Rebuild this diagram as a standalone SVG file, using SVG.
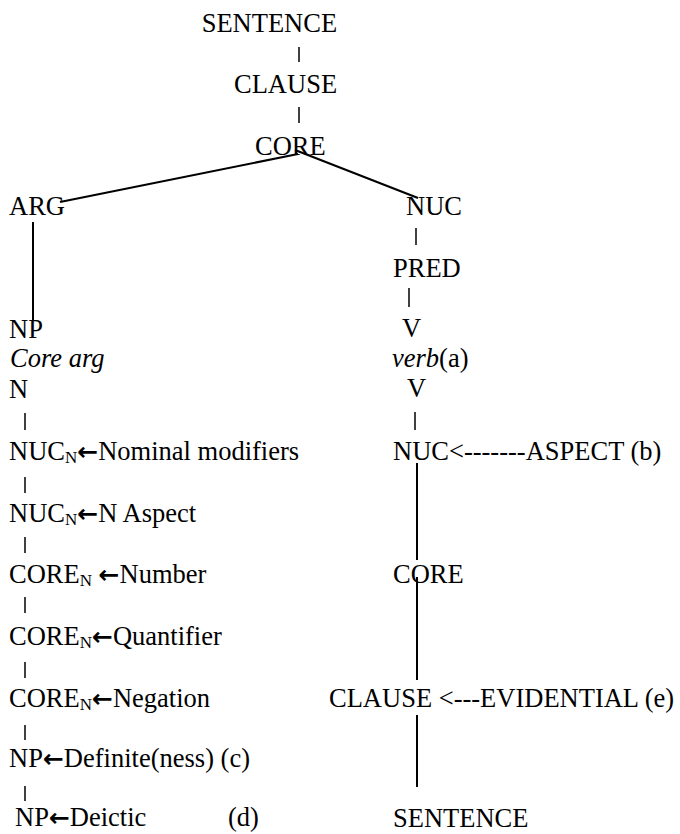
<svg xmlns="http://www.w3.org/2000/svg" width="680" height="834" viewBox="0 0 680 834">
  <style>
    text { font-family: "Liberation Serif", "Times New Roman", serif; font-size: 26.5px; fill: #000; }
    .it { font-style: italic; }
    .sub { font-size: 17px; }
    .arr { font-family: "DejaVu Sans", sans-serif; font-size: 25px; font-weight: bold; }
    .edge { stroke: #000; stroke-width: 2; fill: none; }
    .bar { stroke: #111; stroke-width: 1.6; fill: none; }
  </style>
  <rect width="680" height="834" fill="#fff"/>

  <!-- tree connectors -->
  <g id="connectors">
    <line class="bar" x1="299" y1="47" x2="299" y2="62"/>
    <line class="bar" x1="299" y1="107" x2="299" y2="123"/>
    <line class="edge" x1="298" y1="154" x2="60" y2="202"/>
    <line class="edge" x1="295" y1="150" x2="418" y2="198"/>
    <line class="edge" x1="33" y1="222" x2="33" y2="320"/>
    <line class="bar" x1="416" y1="228" x2="416" y2="245"/>
    <line class="bar" x1="409" y1="288" x2="409" y2="307"/>
    <line class="bar" x1="415" y1="412" x2="415" y2="430"/>
    <line class="edge" x1="417" y1="463" x2="417" y2="560"/>
    <line class="edge" x1="417" y1="577" x2="417" y2="680"/>
    <line class="edge" x1="417" y1="715" x2="417" y2="787"/>
    <!-- noun-phrase spine -->
    <line class="bar" x1="25" y1="413" x2="25" y2="430"/>
    <line class="bar" x1="25" y1="477" x2="25" y2="493"/>
    <line class="bar" x1="25" y1="537" x2="25" y2="553"/>
    <line class="bar" x1="25" y1="597" x2="25" y2="613"/>
    <line class="bar" x1="25" y1="662" x2="25" y2="678"/>
    <line class="bar" x1="25" y1="725" x2="25" y2="740"/>
    <line class="bar" x1="25" y1="786" x2="25" y2="801"/>
  </g>

  <!-- upper clause layers -->
  <g id="sentence-top"><text x="201.7" y="32">SENTENCE</text></g>
  <g id="clause-top"><text x="234" y="93">CLAUSE</text></g>
  <g id="core-top"><text x="255" y="155">CORE</text></g>

  <!-- argument branch -->
  <g id="arg"><text x="9" y="215">ARG</text></g>
  <g id="np"><text x="9" y="338">NP</text></g>
  <g id="core-arg"><text x="10" y="367" class="it">Core arg</text></g>
  <g id="n"><text x="9" y="398">N</text></g>
  <g id="nuc-n-mod"><text x="9" y="460">NUC<tspan class="sub" dy="3">N</tspan><tspan class="arr" dy="-3">←</tspan>Nominal modifiers</text></g>
  <g id="nuc-n-aspect"><text x="9" y="522">NUC<tspan class="sub" dy="3">N</tspan><tspan class="arr" dy="-3">←</tspan>N Aspect</text></g>
  <g id="core-n-number"><text x="9" y="583">CORE<tspan class="sub" dy="3">N</tspan><tspan dy="-3"> </tspan><tspan class="arr">←</tspan>Number</text></g>
  <g id="core-n-quant"><text x="9" y="645">CORE<tspan class="sub" dy="3">N</tspan><tspan class="arr" dy="-3">←</tspan>Quantifier</text></g>
  <g id="core-n-neg"><text x="9" y="707">CORE<tspan class="sub" dy="3">N</tspan><tspan class="arr" dy="-3">←</tspan>Negation</text></g>
  <g id="np-def"><text x="9" y="767">NP<tspan class="arr">←</tspan>Definite(ness) (c)</text></g>
  <g id="np-deictic"><text x="15" y="826">NP<tspan class="arr">←</tspan>Deictic</text><text x="228" y="826">(d)</text></g>

  <!-- predicate branch -->
  <g id="nuc"><text x="406" y="215">NUC</text></g>
  <g id="pred"><text x="393" y="277">PRED</text></g>
  <g id="v"><text x="402" y="337">V</text></g>
  <g id="verb"><text x="392" y="367"><tspan class="it">verb</tspan>(a)</text></g>
  <g id="v2"><text x="407" y="397">V</text></g>
  <g id="nuc-aspect"><text x="393" y="460">NUC&lt;-------ASPECT (b)</text></g>
  <g id="core-v"><text x="393" y="583">CORE</text></g>
  <g id="clause-evid"><text x="329" y="707">CLAUSE &lt;---EVIDENTIAL (e)</text></g>
  <g id="sentence-bottom"><text x="393" y="827">SENTENCE</text></g>
</svg>
